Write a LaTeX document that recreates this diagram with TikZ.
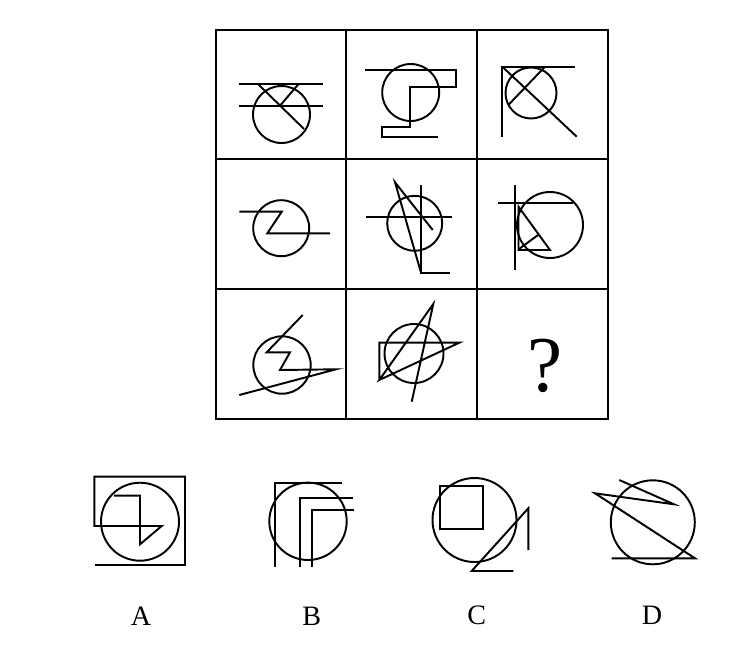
\documentclass[tikz,border=0pt]{standalone}
\usepackage{fontspec}
\setmainfont{Liberation Serif}
\tikzset{
  fig/.style={line width=1.1pt},
  cellline/.style={line width=1.4pt},
  optlabel/.style={font=\fontsize{16}{16}\selectfont, inner sep=0pt},
}
\begin{document}
\begin{tikzpicture}[x=0.02cm, y=-0.02cm]
\useasboundingbox (0,0) rectangle (746,652);

% Grid
\draw[cellline] (216,30) rectangle (608,419);
\draw[cellline] (346,30) -- (346,419);
\draw[cellline] (477,30) -- (477,419);
\draw[cellline] (216,159) -- (608,159);
\draw[cellline] (216,289) -- (608,289);

% Row 1
\begin{scope}[fig]
    \draw (281.5,114.5) circle (28.5);
    \draw (239.3,84.3) -- (322.7,84.3);
    \draw (239.3,105.7) -- (322.7,105.7);
    \draw (258.3,84.3) -- (304,129);
    \draw (298.3,84.3) -- (280,105.7);
\end{scope}
\begin{scope}[fig]
    \draw (410.7,92.5) circle (28.5);
    \draw (365,70) -- (456,70) -- (456,86.7) -- (410,86.7) -- (410,126.7)
          -- (382.3,126.7) -- (382.3,137.3) -- (438.3,137.3);
\end{scope}
\begin{scope}[fig]
    \draw (531,93) circle (25.5);
    \draw (575,66.7) -- (502.3,66.7) -- (502.3,136.7);
    \draw (502.3,66.7) -- (576.7,136.7);
    \draw (545,66.7) -- (508.3,105);
\end{scope}

% Row 2
\begin{scope}[fig]
    \draw (281.2,228.2) circle (28);
    \draw (239.3,211.7) -- (281.7,211.7) -- (267.3,233.3) -- (330,233.3);
\end{scope}
\begin{scope}[fig]
    \draw (414.7,223.3) circle (27.5);
    \draw (366,216.7) -- (451.7,216.7);
    \draw (421,185) -- (421,272.7) -- (450,272.7);
    \draw (432.7,230) -- (395,182.3) -- (421,272.7);
\end{scope}
\begin{scope}[fig]
    \draw (550,225) circle (33);
    \draw (515,185) -- (515,270);
    \draw (498.3,203.3) -- (573.3,203.3);
    \draw (518.5,206.7) -- (550,250) -- (518.5,250) -- cycle;
    \draw (519,249) -- (538,235);
\end{scope}

% Row 3
\begin{scope}[fig]
    \draw (282,365) circle (28.7);
    \draw (302.7,315) -- (266.7,352.3) -- (290,352.3) -- (280,370)
          -- (336,369.3) -- (239.3,395);
\end{scope}
\begin{scope}[fig]
    \draw (414,353.5) circle (29.5);
    \draw (411.7,401.7) -- (433.3,304) -- (379.3,380) -- (459.3,342.7)
          -- (379.3,342.7) -- (379.3,380);
\end{scope}
\node[font=\fontsize{45}{45}\selectfont, inner sep=0pt] (qmark) at (545,366.3) {?};

% Options
\begin{scope}[fig]
    \draw (140,521.7) circle (39);
    \draw (95,565) -- (185,565) -- (185,476.7) -- (94.3,476.7) -- (94.3,526)
          -- (161.7,526) -- (140,544.3) -- (140,495.7) -- (114,495.7);
\end{scope}
\begin{scope}[fig]
    \draw (308,521.3) circle (38.7);
    \draw (275,566.7) -- (275,482.7) -- (341.7,482.7);
    \draw (300,566.7) -- (300,498.3) -- (353.3,498.3);
    \draw (312.3,566.7) -- (312.3,510) -- (354,510);
\end{scope}
\begin{scope}[fig]
    \draw (474.5,520) circle (42);
    \draw (440,485.7) rectangle (482.7,529);
    \draw (528.3,550) -- (528.3,508.3) -- (471.7,571) -- (513.3,571);
\end{scope}
\begin{scope}[fig]
    \draw (652.8,522.3) circle (42);
    \draw (619.3,480) -- (674,504.3) -- (595,493.3) -- (695,558.3) -- (611.7,558.3);
\end{scope}

\node[optlabel] (labA) at (141,616) {A};
\node[optlabel] (labB) at (311.7,616) {B};
\node[optlabel] (labC) at (476.7,615) {C};
\node[optlabel] (labD) at (652,615) {D};

\end{tikzpicture}
\end{document}
